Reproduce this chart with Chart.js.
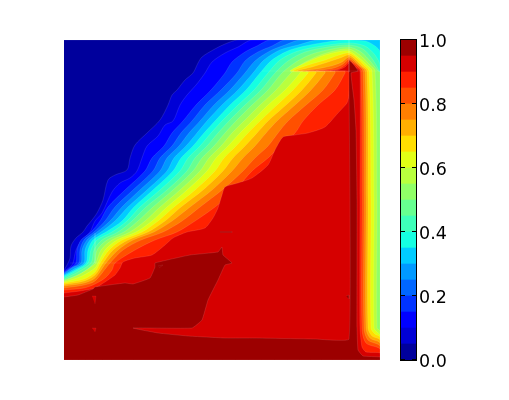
<!DOCTYPE html>
<html>
<head>
<meta charset="utf-8">
<script src="https://cdn.jsdelivr.net/npm/chart.js@4"></script>
<style>
  body { margin: 0; background: #fff; }
  canvas { position: absolute; left: 0; top: 0; }
</style>
</head>
<body>
<canvas id="field" width="509" height="400"></canvas>
<canvas id="bar" width="509" height="400"></canvas>
<script>
// Filled contours. Each level is the outline of the region >= that level.
const rows = [263, 250, 240, 232, 221, 207, 190, 171, 158, 146, 133, 121, 105, 90, 73];
const onRows = xs => xs.map((x, i) => [x, rows[i]]);

const level00 = [[64, 40], [380, 40], [380, 360], [64, 360]];
const level05 = [[64, 270], [67, 265], [70, 258], [71, 246], [76, 238], [83, 232], [87, 226], [92, 220], [97, 213], [103, 200], [108, 180], [115, 175], [127, 170], [130, 158], [135, 145], [147, 133], [160, 120], [168, 105], [172, 95], [177, 90], [185, 80], [193, 73], [198, 63], [202, 57], [213, 50], [225, 44], [238, 40], [380, 40], [380, 360], [64, 360]];
const level10 = [[64, 271], [70, 267], [73, 263], [76, 250], [82, 240], [90, 232], [95, 221], [102, 213], [112, 192], [120, 183], [130, 178], [137, 171], [142, 158], [147, 146], [158, 136], [165, 125], [173, 121], [180, 105], [187, 95], [196, 85], [205, 73], [212, 62], [225, 53], [238, 47], [252, 40], [380, 40], [380, 360], [64, 360]];
const level15 = [[64, 272], [70, 268], ...onRows([76, 77, 81, 91, 100, 108, 125, 145, 152, 164, 172, 183, 196, 211, 225]), [232, 62], [245, 52], [257, 46], [270, 40], [380, 40], [380, 360], [64, 360]];
const level20 = [[64, 273], [71, 268], ...onRows([79, 80, 84, 94, 105, 115, 133, 153, 160, 172, 181, 192, 205, 221, 237]), [245, 61], [258, 52], [272, 46], [285, 40], [380, 40], [380, 360], [64, 360]];
const level25 = [[64, 274], [72, 268], ...onRows([81, 82, 87, 97, 110, 122, 140, 160, 167, 179, 189, 200, 214, 230, 245]), [255, 61], [270, 51], [285, 45], [300, 40], [380, 40], [380, 360], [64, 360]];
const level30 = [[64, 275], [74, 269], ...onRows([84, 85, 90, 101, 115, 128, 147, 167, 174, 186, 197, 207, 222, 238, 253]), [264, 60], [280, 50], [298, 45], [318, 40], [380, 40], [380, 360], [64, 360]];
const level35 = [[64, 276], [75, 270], ...onRows([86, 88, 93, 106, 122, 134, 153, 173, 181, 193, 204, 215, 230, 246, 260]), [272, 60], [290, 50], [315, 44], [345, 40], [365, 41], [375, 46], [380, 52], [380, 360], [64, 360]];
const level40 = [[64, 277.5], [76, 271], ...onRows([88, 91, 97, 112, 127, 140, 160, 180, 188, 200, 211, 222, 238, 254, 268]), [280, 60], [298, 51], [322, 46], [349, 43], [365, 46], [375, 55], [380, 66], [380, 360], [64, 360]];
const level45 = [[64, 279], [78, 272], ...onRows([91, 94, 102, 118, 132, 146, 167, 187, 195, 207, 218, 229, 245, 261, 275]), [288, 61], [305, 52], [328, 47], [349, 45], [363, 49], [373, 60], [379, 71], [380, 76], [380, 360], [64, 360]];
const level50 = [[64, 280], [80, 274], ...onRows([94, 97, 107, 124, 138, 153, 173, 193, 202, 214, 225, 236, 252, 268, 282]), [296, 62], [312, 54], [332, 49], [349, 47], [361, 52], [371, 62], [378, 71], [380, 72], [380, 360], [64, 360]];
const level55 = [[64, 281], [80, 274], [95, 264], ...onRows([96, 101, 112, 130, 145, 160, 180, 200, 209, 221, 232, 244, 260, 276, 291]), [302, 64], [318, 56], [334, 51], [349, 49], [360, 55], [369, 64], [375, 71], [377, 200], [377, 328], [380, 331], [380, 360], [64, 360]];
const level60 = [[64, 282], [82, 276], [95, 268], ...onRows([98, 105, 117, 136, 152, 167, 187, 207, 216, 228, 240, 252, 268, 285, 300]), [300, 71.5], [290, 71], [305, 63], [322, 56], [337, 52], [349, 51], [358, 57], [367, 65], [372, 71], [374, 200], [374, 328], [377, 332], [380, 335], [380, 360], [64, 360]];
const level65 = [[64, 283], [84, 279], [95, 272], ...onRows([100, 109, 122, 142, 158, 174, 195, 215, 224, 236, 248, 260, 277, 293, 308]), [308, 71.5], [293, 71], [308, 65], [325, 60], [339, 55], [349, 53], [357, 58], [364, 65], [369, 71], [371, 200], [371, 328], [375, 334], [380, 337], [380, 360], [64, 360]];
const level70 = [[64, 284.5], [84, 281], [95, 275], ...onRows([103, 113, 128, 148, 165, 181, 203, 223, 233, 245, 257, 268, 286, 302, 316]), [316, 71.5], [297, 71], [312, 67], [328, 62], [340, 58], [349, 55], [356, 60], [362, 66], [367, 71], [368, 200], [368, 328], [372, 336], [380, 340], [380, 360], [64, 360]];
const level75 = [[64, 286], [84, 283], [95, 278], ...onRows([106, 118, 133, 154, 172, 190, 212, 232, 243, 255, 266, 277, 295, 311, 325]), [325, 71.5], [301, 71], [316, 69], [331, 66], [342, 62], [349, 57], [355, 61], [360, 66], [365, 71], [366, 200], [366, 328], [370, 338], [380, 343], [380, 360], [64, 360]];
const level80 = [[64, 288], [84, 285], [95, 281], ...onRows([110, 123, 141, 163, 182, 200, 222, 243, 255, 268, 278, 288, 306, 323, 335]), [335, 71.5], [306, 71], [320, 70], [334, 68], [343, 64], [349, 59], [354, 62], [359, 66], [363, 71], [364, 200], [364, 328], [368, 340], [380, 346], [380, 360], [64, 360]];
const level85 = [[64, 290], [84, 288], [95, 284], [105, 278], [112, 270], ...onRows([115, 135, 155, 177, 195, 215, 235, 252, 268, 280, 295, 303, 318, 335, 345]), [345, 71.5], [316, 71], [327, 70.5], [338, 69], [345, 65], [349, 61], [353, 63], [358, 67], [361, 71], [362, 200], [362, 328], [366, 343], [380, 349], [380, 360], [64, 360]];
const level90 = [[64, 293], [80, 291], [95, 288], [105, 282], [115, 275], [120, 268], [123, 262], [135, 258], [152, 255], [165, 245], [173, 238], [187, 232], [205, 228], [213, 218], [218, 208], [222, 195], [225, 187], [238, 183], [252, 178], [268, 165], [275, 150], [283, 137], [295, 135], [308, 133], [325, 127], [338, 113], [347, 103], [349, 95], [349, 72], [330, 71], [338, 70], [345, 67], [349, 63], [352, 65], [357, 68], [360, 71], [360, 200], [360, 328], [362, 347], [366, 352], [380, 353], [380, 360], [64, 360]];
const level95 = [[64, 297], [78, 295], [93, 289], [95, 287], [125, 283], [133, 284], [150, 278], [155, 267], [155, 263], [190, 255], [218, 252], [222, 247], [223, 255], [232, 263], [225, 265], [218, 280], [208, 300], [202, 320], [192, 328], [133, 328], [158, 333], [188, 336], [225, 338], [255, 338], [315, 339], [349, 339], [349, 60], [354, 65], [358, 71], [351, 73], [354, 100], [356, 130], [357, 200], [357, 328], [358, 350], [363, 356], [380, 357], [380, 360], [64, 360]];

// small islands sitting on top of the big regions
const redIslandA = [[92, 296], [96, 296], [95, 304]];
const redIslandB = [[92, 328], [96, 328], [95, 332]];
const darkSpeckA = [[158, 266], [163, 265], [159, 268]];
const darkSpeckB = [[220, 231.5], [232, 231.5], [232, 232.5], [220, 232.5]];
const darkSpeckC = [[346, 296], [349, 295], [349, 299]];

// pale lines where the source grid blocks meet
const seamLines = [
    [[349, 40], [349, 72]],
    [[262, 71], [380, 71]],
    [[95, 233], [95, 263]],
    [[70, 263], [122, 263]]
];

const levels = [level00, level05, level10, level15, level20, level25, level30, level35, level40, level45, level50, level55, level60, level65, level70, level75, level80, level85, level90, level95];
const levelTension = [0, 0.3, 0.3, 0.3, 0.3, 0.3, 0.3, 0.3, 0.3, 0.3, 0.3, 0.3, 0.3, 0.3, 0.3, 0.3, 0.3, 0.3, 0.2, 0.1];
const bandColors = ['#00009c', '#0000d6', '#0000ff', '#0033ff', '#0066ff', '#0099ff', '#00ccff', '#15ffe2', '#3effb9', '#67ff90', '#90ff67', '#b9ff3e', '#e2ff15', '#ffde00', '#ffaf00', '#ff7f00', '#ff5000', '#ff2100', '#d60000', '#9c0000'];
const barSteps = [0.05, 0.05, 0.05, 0.05, 0.05, 0.05, 0.05, 0.05, 0.05, 0.05, 0.05, 0.05, 0.05, 0.05, 0.05, 0.05, 0.05, 0.05, 0.05, 0.05];

function polygon(points, color, order, edge, tension) {
    return {
        data: points.map(p => ({ x: p[0], y: p[1] })),
        showLine: true,
        fill: 'shape',
        tension: tension,
        backgroundColor: color,
        borderColor: edge,
        borderWidth: 0.6,
        pointRadius: 0,
        order: order
    };
}

const datasets = levels.map((pts, i) => polygon(pts, bandColors[i], 100 - i, 'rgba(255,255,255,0.18)', levelTension[i]));
datasets.push(polygon(redIslandA, bandColors[18], 50, 'rgba(255,255,255,0.1)', 0));
datasets.push(polygon(redIslandB, bandColors[18], 49, 'rgba(255,255,255,0.1)', 0));
datasets.push(polygon(darkSpeckA, bandColors[19], 48, 'rgba(255,255,255,0.1)', 0));
datasets.push(polygon(darkSpeckB, bandColors[19], 47, 'rgba(255,255,255,0.1)', 0));
datasets.push(polygon(darkSpeckC, bandColors[19], 46, 'rgba(255,255,255,0.1)', 0));
seamLines.forEach((pts, i) => {
    datasets.push({
        data: pts.map(p => ({ x: p[0], y: p[1] })),
        showLine: true,
        borderColor: 'rgba(255,255,255,0.08)',
        borderWidth: 1,
        pointRadius: 0,
        order: 10 - i
    });
});

new Chart(document.getElementById('field'), {
    type: 'scatter',
    data: { datasets: datasets },
    options: {
        responsive: false,
        animation: false,
        layout: { padding: { left: 64, right: 129, top: 40, bottom: 40 } },
        plugins: { legend: { display: false }, tooltip: { enabled: false } },
        scales: {
            x: { type: 'linear', min: 64, max: 380, display: false },
            y: { type: 'linear', min: 40, max: 360, reverse: true, display: false }
        }
    }
});

// colorbar frame and the short inward ticks
const barFrame = {
    id: 'barFrame',
    afterDraw(chart) {
        const { ctx, chartArea: a, scales } = chart;
        ctx.save();
        ctx.strokeStyle = '#000';
        ctx.lineWidth = 1;
        ctx.strokeRect(a.left - 0.5, a.top - 0.5, a.right - a.left + 1, a.bottom - a.top + 1);
        scales.y.ticks.forEach(t => {
            const py = Math.round(scales.y.getPixelForValue(t.value)) - 0.5;
            ctx.beginPath();
            ctx.moveTo(a.right, py);
            ctx.lineTo(a.right - 4, py);
            ctx.moveTo(a.left, py);
            ctx.lineTo(a.left + 4, py);
            ctx.stroke();
        });
        ctx.restore();
    }
};

new Chart(document.getElementById('bar'), {
    type: 'bar',
    data: {
        labels: [''],
        datasets: barSteps.map((v, i) => ({
            data: [v],
            backgroundColor: bandColors[i],
            stack: 'bar',
            barPercentage: 1,
            categoryPercentage: 1,
            borderWidth: 0
        }))
    },
    options: {
        responsive: false,
        animation: false,
        layout: { padding: { left: 401, right: 0, top: 40, bottom: 40 } },
        plugins: { legend: { display: false }, tooltip: { enabled: false } },
        scales: {
            x: { stacked: true, display: false },
            y: {
                stacked: true,
                position: 'right',
                min: 0,
                max: 1,
                afterFit: s => { s.width = 93; },
                grid: { display: false, drawTicks: false },
                border: { display: false },
                ticks: {
                    stepSize: 0.2,
                    padding: 3,
                    labelOffset: 2,
                    color: '#000',
                    font: { family: '"DejaVu Sans"', size: 17.5 },
                    callback: v => v.toFixed(1)
                }
            }
        }
    },
    plugins: [barFrame]
});
</script>
</body>
</html>
